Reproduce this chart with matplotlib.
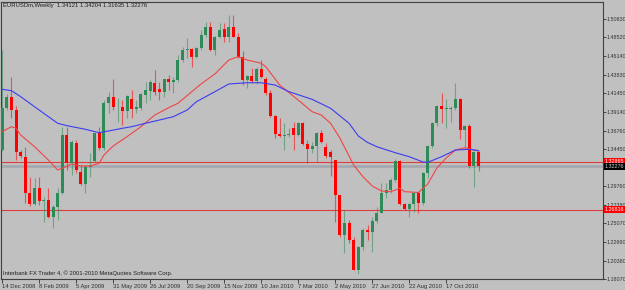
import matplotlib
matplotlib.use("Agg")
import matplotlib.pyplot as plt

plt.rcParams["font.family"] = ["Liberation Sans", "DejaVu Sans"]

TITLE = "EURUSDm,Weekly  1.34121 1.34204 1.31635 1.32276"
COPYRIGHT = "Interbank FX Trader 4, \u00a9 2001-2010 MetaQuotes Software Corp."

# weekly OHLC, first bar = week of 14 Dec 2008
opens = [1.3432, 1.3958, 1.4096, 1.3936, 1.3411, 1.3348, 1.2887, 1.2748, 1.2950, 1.2794,
         1.2802, 1.2588, 1.2714, 1.2887, 1.3621, 1.3265, 1.3524, 1.3159, 1.3004, 1.3214,
         1.3294, 1.3643, 1.3454, 1.4021, 1.4096, 1.3970, 1.3976, 1.3924, 1.4071, 1.3949,
         1.3965, 1.4125, 1.4180, 1.4280, 1.4197, 1.4167, 1.4331, 1.4293, 1.4314, 1.4566,
         1.4692, 1.4701, 1.4600, 1.4714, 1.4881, 1.4986, 1.4692, 1.4860, 1.4953, 1.4860,
         1.4986, 1.4860, 1.4608, 1.4314, 1.4365, 1.4302, 1.4453, 1.4330, 1.4147, 1.3861,
         1.3634, 1.3610, 1.3625, 1.3706, 1.3621, 1.3769, 1.3508, 1.3441, 1.3487, 1.3650,
         1.3474, 1.3411, 1.3306, 1.2865, 1.2361, 1.2516, 1.2298, 1.1920, 1.2214, 1.2424,
         1.2395, 1.2542, 1.2642, 1.2894, 1.2928, 1.3054, 1.3294, 1.2752, 1.2685, 1.2752,
         1.2887, 1.2761, 1.3143, 1.3483, 1.3769, 1.3987, 1.3945, 1.3945, 1.3958, 1.4071,
         1.3684, 1.3739, 1.3231, 1.34121]
highs = [1.4692, 1.4138, 1.4348, 1.3987, 1.3432, 1.3474, 1.3096, 1.3080, 1.3096, 1.2844,
         1.2954, 1.2739, 1.2954, 1.3726, 1.3726, 1.3558, 1.3558, 1.3243, 1.3243, 1.3391,
         1.3647, 1.3726, 1.4062, 1.4167, 1.4327, 1.4084, 1.4062, 1.4125, 1.4188, 1.4062,
         1.4147, 1.4293, 1.4314, 1.4440, 1.4293, 1.4330, 1.4377, 1.4348, 1.4629, 1.4734,
         1.4840, 1.4718, 1.4734, 1.4944, 1.5049, 1.5049, 1.4869, 1.5036, 1.5029, 1.5133,
         1.5133, 1.4903, 1.4684, 1.4377, 1.4462, 1.4482, 1.4566, 1.4352, 1.4188, 1.3870,
         1.3832, 1.3769, 1.3710, 1.3789, 1.3789, 1.3789, 1.3558, 1.3537, 1.3663, 1.3684,
         1.3524, 1.3432, 1.3310, 1.2870, 1.2676, 1.2550, 1.2340, 1.2220, 1.2450, 1.2487,
         1.2592, 1.2718, 1.3013, 1.3020, 1.3080, 1.3315, 1.3306, 1.2765, 1.2765, 1.2907,
         1.2907, 1.3159, 1.3495, 1.3785, 1.3996, 1.4147, 1.4071, 1.3987, 1.4273, 1.4088,
         1.3745, 1.3760, 1.3420, 1.34204]
lows = [1.3420, 1.3936, 1.3832, 1.3306, 1.3332, 1.2761, 1.2727, 1.2739, 1.2739, 1.2529,
        1.2576, 1.2453, 1.2550, 1.2878, 1.3180, 1.3117, 1.3139, 1.2991, 1.2887, 1.3096,
        1.3281, 1.3432, 1.3432, 1.3895, 1.3936, 1.3789, 1.3747, 1.3832, 1.3832, 1.3895,
        1.3936, 1.4021, 1.4062, 1.4125, 1.4062, 1.4104, 1.4188, 1.4147, 1.4293, 1.4545,
        1.4588, 1.4482, 1.4588, 1.4692, 1.4860, 1.4680, 1.4629, 1.4840, 1.4797, 1.4797,
        1.4852, 1.4588, 1.4251, 1.4210, 1.4273, 1.4264, 1.4336, 1.4125, 1.3848, 1.3580,
        1.3596, 1.3432, 1.3596, 1.3432, 1.3609, 1.3495, 1.3265, 1.3391, 1.3285, 1.3521,
        1.3328, 1.3109, 1.2529, 1.2340, 1.2131, 1.2261, 1.1915, 1.1870, 1.2172, 1.2298,
        1.2151, 1.2516, 1.2635, 1.2824, 1.2887, 1.3033, 1.2739, 1.2676, 1.2592, 1.2655,
        1.2635, 1.2739, 1.3080, 1.3458, 1.3735, 1.3769, 1.3706, 1.3785, 1.3936, 1.3567,
        1.3454, 1.3202, 1.2962, 1.31635]
closes = [1.3958, 1.4104, 1.3936, 1.3411, 1.3361, 1.2887, 1.2748, 1.2950, 1.2794, 1.2802,
          1.2592, 1.2714, 1.2887, 1.3621, 1.3265, 1.3537, 1.3180, 1.3004, 1.3222, 1.3231,
          1.3643, 1.3454, 1.4021, 1.4096, 1.3970, 1.3978, 1.3924, 1.4117, 1.3949, 1.3970,
          1.4134, 1.4188, 1.4293, 1.4167, 1.4159, 1.4323, 1.4293, 1.4314, 1.4566, 1.4692,
          1.4701, 1.4600, 1.4714, 1.4881, 1.4986, 1.4692, 1.4860, 1.4944, 1.4860, 1.4986,
          1.4860, 1.4608, 1.4314, 1.4365, 1.4302, 1.4453, 1.4356, 1.4147, 1.3861, 1.3634,
          1.3609, 1.3625, 1.3634, 1.3621, 1.3769, 1.3508, 1.3441, 1.3487, 1.3650, 1.3537,
          1.3357, 1.3348, 1.2865, 1.2361, 1.2516, 1.2298, 1.1920, 1.2214, 1.2424, 1.2395,
          1.2542, 1.2642, 1.2894, 1.2928, 1.3054, 1.3294, 1.2752, 1.2685, 1.2752, 1.2887,
          1.2761, 1.3143, 1.3483, 1.3769, 1.3987, 1.3945, 1.3958, 1.3965, 1.4071, 1.3684,
          1.3739, 1.3231, 1.3411, 1.32276]

# moving averages (bar index, price)
ma_fast_bar = [0, 2, 3, 4, 7, 10, 12, 13, 15, 17, 19, 21, 22, 24, 27, 30, 33, 36, 38, 41,
               43, 46, 49, 51, 53, 56, 57, 60, 64, 67, 69, 71, 73, 76, 78, 80, 82, 84, 86, 87,
               90, 92, 94, 96, 98, 100, 103]
ma_fast = [1.3663, 1.3726, 1.3706, 1.3621, 1.3474, 1.3306, 1.3180, 1.3202, 1.3256, 1.3231,
           1.3231, 1.3265, 1.3369, 1.3483, 1.3600, 1.3726, 1.3873, 1.3965, 1.4021, 1.4167,
           1.4264, 1.4390, 1.4566, 1.4608, 1.4566, 1.4525, 1.4482, 1.4251, 1.4062, 1.3915,
           1.3873, 1.3769, 1.3584, 1.3243, 1.3096, 1.2979, 1.2916, 1.2907, 1.2950, 1.2907,
           1.2897, 1.3004, 1.3206, 1.3332, 1.3432, 1.3461, 1.3420]
ma_slow_bar = [0, 2, 4, 7, 10, 12, 14, 18, 21, 23, 26, 28, 31, 34, 37, 40, 42, 46, 49, 53,
               56, 59, 62, 67, 71, 75, 77, 79, 81, 85, 88, 91, 92, 95, 98, 101, 103]
ma_slow = [1.4197, 1.4180, 1.4104, 1.3978, 1.3852, 1.3769, 1.3739, 1.3693, 1.3650, 1.3672,
           1.3706, 1.3726, 1.3769, 1.3810, 1.3852, 1.3936, 1.4041, 1.4167, 1.4264, 1.4280,
           1.4280, 1.4251, 1.4167, 1.4071, 1.3958, 1.3769, 1.3609, 1.3527, 1.3474, 1.3398,
           1.3348, 1.3281, 1.3277, 1.3348, 1.3432, 1.3441, 1.3424]

date_bars = [0, 8, 16, 24, 32, 40, 48, 56, 64, 72, 80, 88, 96]
date_labels = ["14 Dec 2008", "8 Feb 2009", "5 Apr 2009", "31 May 2009", "26 Jul 2009",
               "20 Sep 2009", "15 Nov 2009", "10 Jan 2010", "7 Mar 2010", "2 May 2010",
               "27 Jun 2010", "22 Aug 2010", "17 Oct 2010"]
price_ticks = [1.18070, 1.20380, 1.22690, 1.25070, 1.27380, 1.29760, 1.32070, 1.34450,
               1.36760, 1.39140, 1.41450, 1.43830, 1.46140, 1.48520, 1.50830]
level_lines = [1.32865, 1.26816]
bid = 1.32276

BG = "#c0c0c0"
BULL, BEAR = "#2e8b57", "#ff0000"
FS = 4.2

fig = plt.figure(figsize=(6.25, 2.9), dpi=100, facecolor=BG)
ax = fig.add_axes([1 / 625, 11 / 290, 602 / 625, 277 / 290], facecolor=BG)

for i, (o, h, l, c) in enumerate(zip(opens, highs, lows, closes)):
    col = BULL if c >= o else BEAR
    ax.vlines(i, l, h, color=col, lw=0.8, alpha=0.55, zorder=3)
    ax.bar(i, max(abs(c - o), 0.0010), bottom=min(o, c), width=0.64, color=col,
           lw=0, zorder=4)

ax.plot(ma_fast_bar, ma_fast, color="#f04545", lw=0.8, zorder=5)
ax.plot(ma_slow_bar, ma_slow, color="#3c3cf0", lw=0.8, zorder=5)

for lv in level_lines:
    ax.axhline(lv, color="#e03c3c", lw=0.8, zorder=2)
ax.axhline(bid, color="#a4a6b0", lw=1.8, zorder=1)

ax.set_xlim(-0.25, 129.9)
ax.set_ylim(1.1807, 1.5297)

ax.yaxis.tick_right()
ax.set_yticks(price_ticks)
ax.set_yticklabels([f"{v:.5f}" for v in price_ticks])
ax.tick_params(axis="y", length=2, width=0.6, pad=0.6, labelsize=3.9, colors="#303030")
ax.set_xticks(date_bars)
ax.set_xticklabels(date_labels, ha="left")
ax.tick_params(axis="x", length=3, width=0.6, pad=0.6, labelsize=FS, colors="#303030")
for s in ax.spines.values():
    s.set_color("#404040")
    s.set_linewidth(0.8)

# price tags on the right scale
for lv in level_lines:
    ax.text(1.003, lv, f"{lv:.5f}", transform=ax.get_yaxis_transform(), fontsize=3.9,
            color="white", va="center", ha="left", zorder=10, clip_on=False,
            bbox=dict(boxstyle="square,pad=0.2", fc="#ff0000", ec="none"))
ax.text(1.003, bid, f"{bid:.5f}", transform=ax.get_yaxis_transform(), fontsize=3.9,
        color="#d0d0d0", va="center", ha="left", zorder=10, clip_on=False,
        bbox=dict(boxstyle="square,pad=0.2", fc="black", ec="none"))

fig.text(3 / 625, 1 - 6 / 290, TITLE, fontsize=FS, color="#202020", va="center", ha="left")
fig.text(3 / 625, 1 - 273 / 290, COPYRIGHT, fontsize=FS, color="#202020", va="center", ha="left")

fig.savefig("out.png", dpi=100, facecolor=BG)
